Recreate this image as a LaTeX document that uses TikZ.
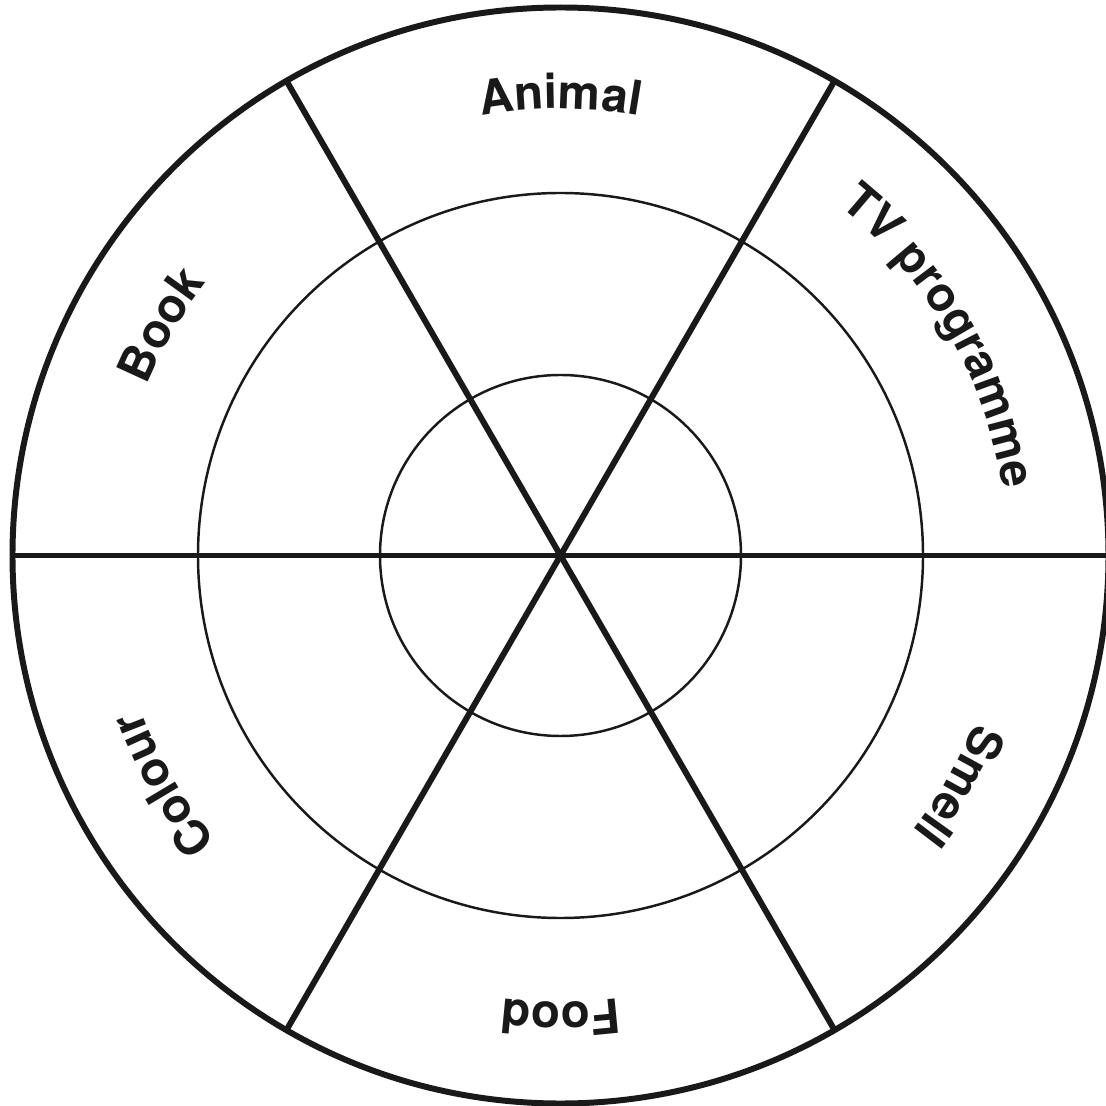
\documentclass[tikz,border=0pt]{standalone}
\usepackage{fontspec}
\setmainfont{TeX Gyre Heros}
\usetikzlibrary{decorations.text}

\begin{document}
\begin{tikzpicture}[
    rim/.style={line width=3.4pt,black!90},
    ring/.style={line width=1.4pt,black!90},
    curved/.style={decorate,decoration={text along path,text align=center,
      text={|\fontsize{27}{31}\selectfont\bfseries\color{black!90}|#1}}}]
  \useasboundingbox (-11.21,-11.01) rectangle (10.89,11.11);

  \coordinate (O) at (0,0);
  \draw[ring] (O) circle (3.61);
  \draw[ring] (O) circle (7.25);
  \draw[rim] (O) circle (10.96);

  \foreach \a/\b in {0/180,60/240,120/300}
    \draw[rim] (\a:10.96) coordinate (s\a) -- (O) -- (\b:10.96) coordinate (s\b);

  % labels follow the rim, read clockwise
  \foreach \a/\t in {90/Animal,30/TV programme,-30/Smell,-90/Food,-150/Colour,150/Book}
    \path[curved=\t] (\a+40:8.94) arc[start angle=\a+40,end angle=\a-40,radius=8.94];
\end{tikzpicture}
\end{document}
